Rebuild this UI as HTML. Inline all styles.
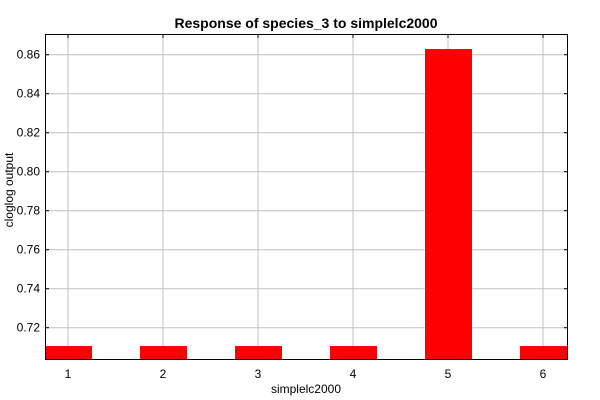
<!DOCTYPE html>
<html><head><meta charset="utf-8"><style>
body{margin:0;background:#fff;}
svg{display:block;font-family:"Liberation Sans",sans-serif;}
</style></head><body>
<svg id="chart" width="600" height="400">
<text x="306" y="28" text-anchor="middle" font-size="14" font-weight="bold">Response of species_3 to simplelc2000</text>
<g id="grid"></g><g id="bars"></g><g id="axes"></g>
<text x="306" y="393" text-anchor="middle" font-size="12">simplelc2000</text>
<text transform="translate(13,190) rotate(-90)" text-anchor="middle" font-size="12">cloglog output</text>
</svg>
<script>
const categories=["1","2","3","4","5","6"];
const values=[0.7106,0.7106,0.7106,0.7106,0.8629,0.7106];
const yTicks=[0.72,0.74,0.76,0.78,0.80,0.82,0.84,0.86];
const L=45,R=568,T=34,B=360,yMin=0.70344,yMax=0.87061;
const ns="http://www.w3.org/2000/svg";
function y(v){return B-(v-yMin)/(yMax-yMin)*(B-T);}
function x(i){return 68+i*95;}
function mk(p,tag,a){const e=document.createElementNS(ns,tag);for(const k in a)e.setAttribute(k,a[k]);document.getElementById(p).appendChild(e);return e;}
yTicks.forEach(t=>{
 const g=mk('grid','line',{x1:L,x2:R,y1:y(t),y2:y(t),stroke:'#c0c0c0'});
 
 
 mk('axes','line',{x1:L,x2:L+4,y1:y(t),y2:y(t),stroke:'#000'});
 mk('axes','line',{x1:R-4,x2:R,y1:y(t),y2:y(t),stroke:'#000'});
 const l=mk('axes','text',{x:L-5,y:y(t)+4,'text-anchor':'end','font-size':12});
 l.textContent=t.toFixed(2);
 
 
});
categories.forEach((c,i)=>{
 const g=mk('grid','line',{x1:x(i),x2:x(i),y1:T,y2:B,stroke:'#c0c0c0'});
 
 
 mk('axes','line',{x1:x(i),x2:x(i),y1:T,y2:T+4,stroke:'#000'});
 const bx=Math.max(L,x(i)-23), bw=Math.min(R,x(i)+24)-bx;
 const b=mk('bars','rect',{x:bx,y:y(values[i]),width:bw,height:B-y(values[i]),fill:'#ff0000'});
 
 
 const l=mk('axes','text',{x:x(i),y:B+18,'text-anchor':'middle','font-size':12});
 l.textContent=c;
 
 
});
const f=mk('axes','rect',{x:L+0.5,y:T+0.5,width:R-L-1,height:B-T-1,fill:'none',stroke:'#000'});


</script>
</body></html>
